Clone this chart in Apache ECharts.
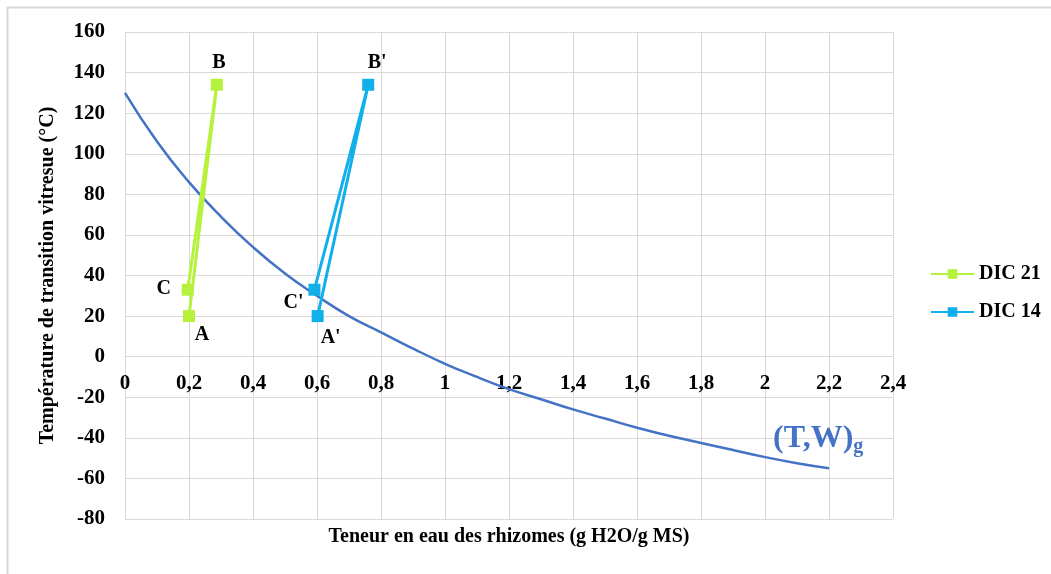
<!DOCTYPE html>
<html>
<head>
<meta charset="utf-8">
<script src="https://cdn.jsdelivr.net/npm/echarts@6/dist/echarts.min.js"></script>
<style>
  html, body { margin: 0; padding: 0; background: #fff; }
  #chart { width: 1051px; height: 574px; }
</style>
</head>
<body>
<div id="chart"></div>
<script>
// teneur en eau (g H2O/g MS) et Tg (°C)
var dic21X = [0.2, 0.287, 0.196]
var dic21Y = [20, 134, 33]
var dic21Labels = ['A', 'B', 'C']

var dic14X = [0.602, 0.76, 0.592]
var dic14Y = [20, 134, 33]
var dic14Labels = ["A'", "B'", "C'"]

// courbe (T,W)g
var curveX = [0, 0.1, 0.2, 0.3, 0.4, 0.5, 0.6, 0.7, 0.8, 0.9, 1.0, 1.1,
  1.2, 1.3, 1.4, 1.5, 1.6, 1.7, 1.8, 1.9, 2.0, 2.1, 2.2]
var curveY = [130, 106, 86, 69, 54, 41, 30, 20, 12, 4, -3.5, -10,
  -16, -21, -26, -30.5, -35, -39, -42.5, -46, -49.5, -52.5, -55]

var yMin = -80
var yMax = 160

var font = 'Liberation Serif'
var gridColor = '#d9d9d9'

function pairs(xs, ys) {
  return xs.map(function (x, i) { return [x, ys[i]] })
}

// positions des lettres autour des points
var labelOffsets21 = [[13, 19], [2, -22], [-24, -1]]
var labelOffsets14 = [[13, 22], [9, -22], [-21, 13]]

function labelled(xs, ys, names, offsets) {
  return xs.map(function (x, i) {
    return {
      value: [x, ys[i]],
      label: {
        show: true,
        formatter: names[i],
        position: 'inside',
        offset: offsets[i],
        color: '#000',
        fontFamily: font,
        fontWeight: 'bold',
        fontSize: 20,
      },
    }
  })
}

var gridTop = 32
var gridBottom = 55
var plotH = 574 - gridTop - gridBottom
// l'axe des x passe par y = 0 : on le remonte depuis le bas du graphe
var zeroOffset = -((0 - yMin) / (yMax - yMin)) * plotH

var myChart = echarts.init(document.getElementById('chart'))

var option = {
  backgroundColor: '#fff',
  animation: false,
  grid: { left: 125, right: 158, top: gridTop, bottom: gridBottom, containLabel: false, outerBoundsMode: 'none' },
  legend: {
    orient: 'vertical',
    left: 925,
    top: 259,
    itemWidth: 43,
    itemHeight: 12,
    itemGap: 18,
    data: ['DIC 21', 'DIC 14'],
    textStyle: { fontFamily: font, fontWeight: 'bold', fontSize: 20, color: '#000' },
  },
  xAxis: {
    type: 'value',
    position: 'bottom',
    offset: zeroOffset,
    min: 0,
    max: 2.4,
    interval: 0.2,
    name: 'Teneur en eau des rhizomes (g H2O/g MS)',
    nameLocation: 'middle',
    nameGap: 170,
    nameTextStyle: { fontFamily: font, fontWeight: 'bold', fontSize: 20, color: '#000' },
    axisLine: { onZero: false, lineStyle: { color: gridColor, width: 1 } },
    axisTick: { show: false },
    axisLabel: {
      margin: 16,
      fontFamily: font,
      fontWeight: 'bold',
      fontSize: 21,
      color: '#000',
      formatter: function (v) { return String(Math.round(v * 10) / 10).replace('.', ',') },
    },
    splitLine: { show: true, lineStyle: { color: gridColor, width: 1 } },
  },
  yAxis: {
    type: 'value',
    min: yMin,
    max: yMax,
    interval: 20,
    name: 'Température de transition vitresue (°C)',
    nameLocation: 'middle',
    nameGap: 67,
    nameTextStyle: { fontFamily: font, fontWeight: 'bold', fontSize: 20, color: '#000' },
    axisLine: { show: true, lineStyle: { color: gridColor, width: 1 } },
    axisTick: { show: false },
    axisLabel: {
      margin: 20,
      fontFamily: font,
      fontWeight: 'bold',
      fontSize: 21,
      color: '#000',
    },
    splitLine: { show: true, lineStyle: { color: gridColor, width: 1 } },
  },
  series: [
    {
      name: '(T,W)g',
      type: 'line',
      smooth: true,
      showSymbol: false,
      lineStyle: { color: '#4472c4', width: 2.5 },
      itemStyle: { color: '#4472c4' },
      data: pairs(curveX, curveY),
      z: 2,
    },
    {
      name: 'DIC 21',
      type: 'line',
      symbol: 'rect',
      symbolSize: 12,
      lineStyle: { color: '#b6f23c', width: 3 },
      itemStyle: { color: '#b6f23c' },
      data: labelled(dic21X, dic21Y, dic21Labels, labelOffsets21),
      z: 3,
    },
    {
      name: 'DIC 14',
      type: 'line',
      symbol: 'rect',
      symbolSize: 12,
      lineStyle: { color: '#12b0eb', width: 3 },
      itemStyle: { color: '#12b0eb' },
      data: labelled(dic14X, dic14Y, dic14Labels, labelOffsets14),
      z: 3,
    },
  ],
}

myChart.setOption(option)

// cadre extérieur + étiquette de la courbe placée depuis le dernier point
var endPt = myChart.convertToPixel({ seriesIndex: 0 }, [curveX[curveX.length - 1], curveY[curveY.length - 1]])
myChart.setOption({
  graphic: [
    {
      type: 'rect',
      shape: { x: 7.5, y: 7.5, width: 1100, height: 700 },
      style: { fill: 'none', stroke: gridColor, lineWidth: 2 },
      silent: true,
    },
    {
      type: 'text',
      x: endPt[0] - 56,
      y: endPt[1] - 14,
      style: {
        text: '{a|(T,W)}{b|g}',
        textVerticalAlign: 'bottom',
        rich: {
          a: { fontFamily: font, fontWeight: 'bold', fontSize: 32, fill: '#4472c4', verticalAlign: 'bottom' },
          b: { fontFamily: font, fontWeight: 'bold', fontSize: 20, fill: '#4472c4', verticalAlign: 'bottom', padding: [0, 0, -3, 0] },
        },
      },
    },
  ],
})
</script>
</body>
</html>
